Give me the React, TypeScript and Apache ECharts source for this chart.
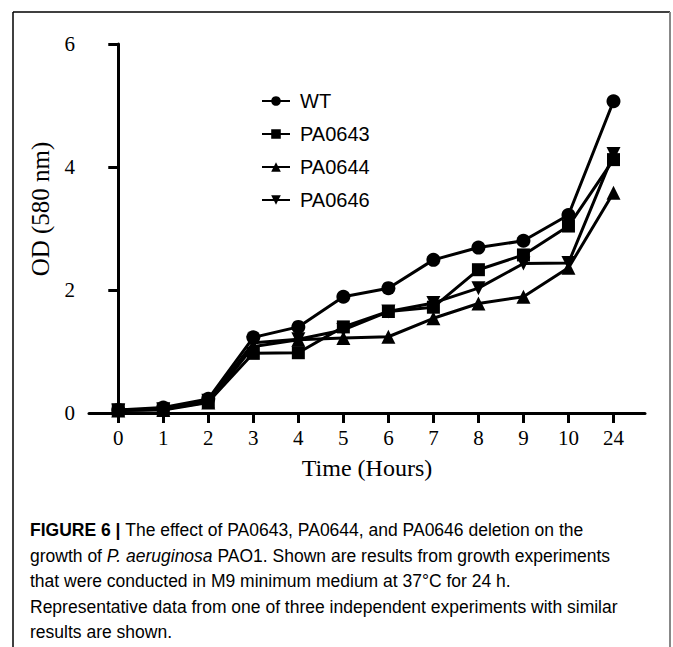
import React, { useEffect, useRef } from "react";
import * as echarts from "echarts";

const HOURS = ["0", "1", "2", "3", "4", "5", "6", "7", "8", "9", "10", "24"];
const WT = [0.05, 0.09, 0.23, 1.23, 1.4, 1.89, 2.03, 2.49, 2.69, 2.8, 3.22, 5.07];
const PA0643 = [0.05, 0.06, 0.18, 0.97, 0.98, 1.4, 1.65, 1.72, 2.33, 2.57, 3.04, 4.12];
const PA0644 = [0.04, 0.05, 0.17, 1.08, 1.19, 1.22, 1.24, 1.54, 1.78, 1.89, 2.36, 3.58];
const PA0646 = [0.04, 0.06, 0.2, 1.14, 1.2, 1.35, 1.65, 1.79, 2.03, 2.43, 2.44, 4.21];
const Y_TICKS = [0, 2, 4, 6];

const CAPTION = [
  [{ t: "FIGURE 6 | ", s: "b" }, { t: "The effect of PA0643, PA0644, and PA0646 deletion on the", s: "n" }],
  [{ t: "growth of ", s: "n" }, { t: "P. aeruginosa", s: "i" }, { t: " PAO1. Shown are results from growth experiments", s: "n" }],
  [{ t: "that were conducted in M9 minimum medium at 37°C for 24 h.", s: "n" }],
  [{ t: "Representative data from one of three independent experiments with similar", s: "n" }],
  [{ t: "results are shown.", s: "n" }],
];

const SERIF = "'Liberation Serif', 'DejaVu Serif', serif";
const SANS = "'Liberation Sans', Arial, sans-serif";

export default function App() {
  const ref = useRef<HTMLDivElement>(null);
  useEffect(() => {
    if (!ref.current) return;
    const chart = echarts.init(ref.current, undefined, { renderer: "svg" });
    const mk = (name: string, vals: number[], symbol: string, size: number, rot = 0) => ({
      name,
      type: "line",
      data: vals.map((v, i) => [i, v]),
      symbol,
      symbolSize: size,
      symbolRotate: rot,
      showAllSymbol: true,
      lineStyle: { color: "#000", width: 3 },
      itemStyle: { color: "#000" },
      emphasis: { disabled: true },
    });
    const captionGraphics = CAPTION.map((line, li) => ({
      type: "text",
      left: 30,
      top: 521 + li * 25.5,
      style: {
        text: line.map((p) => `{${p.s}|${p.t}}`).join(""),
        rich: {
          n: { fontFamily: SANS, fontSize: 17.5, color: "#333" },
          i: { fontFamily: SANS, fontSize: 17.5, color: "#333", fontStyle: "italic" },
          b: { fontFamily: SANS, fontSize: 17.5, color: "#222", fontWeight: "bold" },
        },
      },
    }));
    chart.setOption({
      animation: false,
      backgroundColor: "#fff",
      grid: { left: 89, right: 28, top: 44, bottom: 234, outerBoundsMode: "none", containLabel: false },
      legend: {
        orient: "vertical",
        left: 256,
        top: 86,
        itemWidth: 28,
        itemHeight: 12,
        itemGap: 13,
        textStyle: { fontFamily: SANS, fontSize: 20, color: "#000", padding: [0, 0, 0, 5], lineHeight: 20 },
        data: ["WT", "PA0643", "PA0644", "PA0646"],
      },
      xAxis: {
        type: "value",
        min: -0.65,
        max: 11.7,
        name: "Time (Hours)",
        nameLocation: "middle",
        nameGap: 43,
        nameTextStyle: { fontFamily: SERIF, fontSize: 24, color: "#000" },
        axisLine: { lineStyle: { color: "#000", width: 3 } },
        axisTick: { show: true, length: 10, lineStyle: { color: "#000", width: 3 }, customValues: HOURS.map((_, i) => i) },
        axisLabel: {
          customValues: HOURS.map((_, i) => i),
          formatter: (v: number) => HOURS[Math.round(v)] ?? "",
          fontFamily: SERIF,
          fontSize: 21,
          color: "#000",
          margin: 14,
        },
        splitLine: { show: false },
      },
      yAxis: {
        type: "value",
        min: 0,
        max: 6,
        interval: 2,
        axisLine: { show: true, lineStyle: { color: "#000", width: 3 } },
        axisTick: { show: true, length: 10, lineStyle: { color: "#000", width: 3 } },
        axisLabel: {
          fontFamily: SERIF,
          fontSize: 21,
          color: "#000",
          margin: 14,
          formatter: (v: number) => (Y_TICKS.includes(v) ? String(v) : ""),
        },
        splitLine: { show: false },
      },
      graphic: [
        { type: "line", shape: { x1: 13, y1: 12, x2: 670, y2: 12 }, style: { stroke: "#000", lineWidth: 1.5 } },
        { type: "line", shape: { x1: 13, y1: 12, x2: 13, y2: 647 }, style: { stroke: "#000", lineWidth: 1.5 } },
        { type: "line", shape: { x1: 670, y1: 12, x2: 670, y2: 647 }, style: { stroke: "#888", lineWidth: 2 } },
        {
          type: "text",
          x: 40,
          y: 209,
          rotation: Math.PI / 2,
          style: {
            text: "OD (580 nm)",
            fontFamily: SERIF,
            fontSize: 25,
            fill: "#000",
            align: "center",
            verticalAlign: "middle",
          },
        },
        ...captionGraphics,
      ],
      series: [
        mk("WT", WT, "circle", 14),
        mk("PA0643", PA0643, "rect", 13),
        mk("PA0644", PA0644, "triangle", 14),
        mk("PA0646", PA0646, "triangle", 14, 180),
      ],
    });
    return () => chart.dispose();
  }, []);
  return <div ref={ref} style={{ position: "fixed", left: 0, top: 0, width: 673, height: 647 }} />;
}
